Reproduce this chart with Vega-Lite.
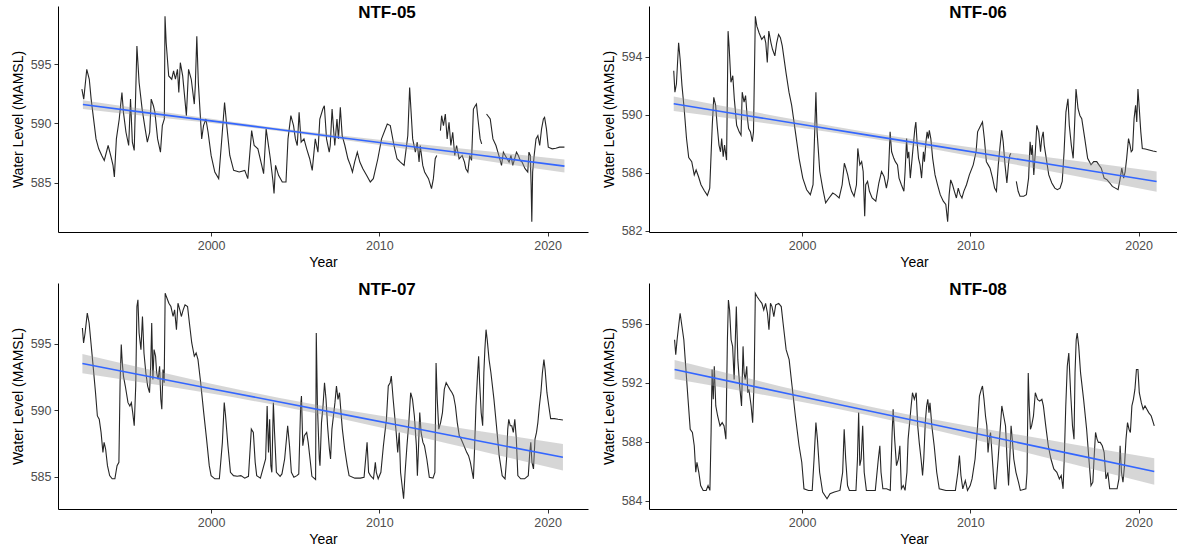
{
"$schema": "https://vega.github.io/schema/vega-lite/v6.json",
"background": "white",
"padding": {"left": 11, "top": 4, "right": 0, "bottom": 0},
"config": {
  "view": {"stroke": null},
  "font": "Liberation Sans",
  "axis": {"grid": false, "domainColor": "#000000", "domainWidth": 1, "tickColor": "#333333", "tickSize": 4, "labelColor": "#4d4d4d", "labelFontSize": 12.5, "titleFontSize": 14, "titleColor": "#000000", "titleFontWeight": "normal", "labelFont": "Liberation Sans", "titleFont": "Liberation Sans", "labelPadding": 3},
  "axisX": {"minExtent": 20, "maxExtent": 20, "titlePadding": 3},
  "axisY": {"minExtent": 30, "maxExtent": 30, "titlePadding": 3},
  "title": {"font": "Liberation Sans", "fontSize": 17, "fontWeight": "bold", "color": "#000000", "anchor": "middle", "frame": "group", "dx": 64, "offset": -16}
},
"datasets": {
"ntf05": [
{"seg":1,"year":1992.32,"level":592.90},{"seg":1,"year":1992.43,"level":592.06},{"seg":1,"year":1992.61,"level":594.58},{"seg":1,"year":1992.76,"level":593.74},{"seg":1,"year":1992.87,"level":592.06},{"seg":1,"year":1993.16,"level":588.70},{"seg":1,"year":1993.32,"level":587.86},{"seg":1,"year":1993.50,"level":587.30},{"seg":1,"year":1993.65,"level":586.88},{"seg":1,"year":1993.88,"level":588.14},{"seg":1,"year":1994.03,"level":587.30},{"seg":1,"year":1994.17,"level":586.46},{"seg":1,"year":1994.25,"level":585.48},{"seg":1,"year":1994.37,"level":588.70},{"seg":1,"year":1994.54,"level":590.38},{"seg":1,"year":1994.70,"level":592.62},{"seg":1,"year":1994.79,"level":590.94},{"seg":1,"year":1994.94,"level":589.26},{"seg":1,"year":1995.10,"level":588.14},{"seg":1,"year":1995.21,"level":592.06},{"seg":1,"year":1995.32,"level":588.42},{"seg":1,"year":1995.43,"level":587.72},{"seg":1,"year":1995.59,"level":596.54},{"seg":1,"year":1995.72,"level":593.46},{"seg":1,"year":1995.90,"level":591.22},{"seg":1,"year":1996.08,"level":589.54},{"seg":1,"year":1996.21,"level":588.42},{"seg":1,"year":1996.35,"level":589.26},{"seg":1,"year":1996.44,"level":592.06},{"seg":1,"year":1996.57,"level":591.50},{"seg":1,"year":1996.66,"level":590.94},{"seg":1,"year":1996.82,"level":588.70},{"seg":1,"year":1996.99,"level":587.58},{"seg":1,"year":1997.10,"level":589.82},{"seg":1,"year":1997.22,"level":590.38},{"seg":1,"year":1997.26,"level":599.06},{"seg":1,"year":1997.33,"level":596.82},{"seg":1,"year":1997.48,"level":594.02},{"seg":1,"year":1997.66,"level":593.74},{"seg":1,"year":1997.77,"level":594.44},{"seg":1,"year":1997.88,"level":593.74},{"seg":1,"year":1998.00,"level":594.58},{"seg":1,"year":1998.08,"level":592.62},{"seg":1,"year":1998.17,"level":595.14},{"seg":1,"year":1998.31,"level":594.02},{"seg":1,"year":1998.44,"level":592.06},{"seg":1,"year":1998.53,"level":590.66},{"seg":1,"year":1998.66,"level":594.58},{"seg":1,"year":1998.82,"level":593.74},{"seg":1,"year":1999.00,"level":591.64},{"seg":1,"year":1999.06,"level":593.18},{"seg":1,"year":1999.15,"level":597.38},{"seg":1,"year":1999.24,"level":593.46},{"seg":1,"year":1999.44,"level":588.70},{"seg":1,"year":1999.55,"level":589.82},{"seg":1,"year":1999.69,"level":590.38},{"seg":1,"year":1999.82,"level":589.26},{"seg":1,"year":2000.00,"level":587.30},{"seg":1,"year":2000.22,"level":585.90},{"seg":1,"year":2000.45,"level":585.34},{"seg":1,"year":2000.62,"level":588.42},{"seg":1,"year":2000.80,"level":591.78},{"seg":1,"year":2000.91,"level":590.10},{"seg":1,"year":2001.11,"level":587.30},{"seg":1,"year":2001.34,"level":586.04},{"seg":1,"year":2001.67,"level":585.90},{"seg":1,"year":2002.00,"level":586.04},{"seg":1,"year":2002.18,"level":585.34},{"seg":1,"year":2002.41,"level":589.40},{"seg":1,"year":2002.56,"level":588.14},{"seg":1,"year":2002.78,"level":587.86},{"seg":1,"year":2003.01,"level":586.46},{"seg":1,"year":2003.12,"level":585.76},{"seg":1,"year":2003.27,"level":589.54},{"seg":1,"year":2003.52,"level":587.02},{"seg":1,"year":2003.67,"level":585.20},{"seg":1,"year":2003.74,"level":584.08},{"seg":1,"year":2003.83,"level":586.46},{"seg":1,"year":2004.01,"level":585.62},{"seg":1,"year":2004.23,"level":585.06},{"seg":1,"year":2004.45,"level":585.06},{"seg":1,"year":2004.57,"level":588.70},{"seg":1,"year":2004.74,"level":590.66},{"seg":1,"year":2004.90,"level":589.82},{"seg":1,"year":2005.01,"level":588.70},{"seg":1,"year":2005.12,"level":588.14},{"seg":1,"year":2005.23,"level":590.94},{"seg":1,"year":2005.35,"level":588.42},{"seg":1,"year":2005.52,"level":588.70},{"seg":1,"year":2005.68,"level":587.86},{"seg":1,"year":2005.86,"level":587.02},{"seg":1,"year":2006.01,"level":586.04},{"seg":1,"year":2006.19,"level":588.70},{"seg":1,"year":2006.35,"level":587.58},{"seg":1,"year":2006.46,"level":590.38},{"seg":1,"year":2006.64,"level":591.22},{"seg":1,"year":2006.73,"level":591.50},{"seg":1,"year":2006.86,"level":588.70},{"seg":1,"year":2007.02,"level":587.58},{"seg":1,"year":2007.08,"level":588.14},{"seg":1,"year":2007.19,"level":591.22},{"seg":1,"year":2007.35,"level":588.14},{"seg":1,"year":2007.48,"level":590.38},{"seg":1,"year":2007.57,"level":588.70},{"seg":1,"year":2007.68,"level":591.36},{"seg":1,"year":2007.79,"level":588.98},{"seg":1,"year":2007.95,"level":588.14},{"seg":1,"year":2008.13,"level":587.02},{"seg":1,"year":2008.28,"level":586.46},{"seg":1,"year":2008.40,"level":585.90},{"seg":1,"year":2008.53,"level":586.74},{"seg":1,"year":2008.69,"level":587.58},{"seg":1,"year":2008.84,"level":586.74},{"seg":1,"year":2009.02,"level":586.18},{"seg":1,"year":2009.24,"level":585.62},{"seg":1,"year":2009.46,"level":585.06},{"seg":1,"year":2009.64,"level":585.34},{"seg":1,"year":2009.91,"level":587.02},{"seg":1,"year":2010.13,"level":588.70},{"seg":1,"year":2010.47,"level":589.96},{"seg":1,"year":2010.65,"level":589.82},{"seg":1,"year":2010.87,"level":588.14},{"seg":1,"year":2011.05,"level":587.02},{"seg":1,"year":2011.25,"level":586.74},{"seg":1,"year":2011.47,"level":586.46},{"seg":1,"year":2011.69,"level":588.98},{"seg":1,"year":2011.80,"level":593.04},{"seg":1,"year":2011.98,"level":588.70},{"seg":1,"year":2012.14,"level":587.58},{"seg":1,"year":2012.25,"level":588.42},{"seg":1,"year":2012.36,"level":586.74},{"seg":1,"year":2012.43,"level":588.14},{"seg":1,"year":2012.58,"level":586.46},{"seg":1,"year":2012.69,"level":585.90},{"seg":1,"year":2012.92,"level":585.34},{"seg":1,"year":2013.10,"level":584.50},{"seg":1,"year":2013.21,"level":585.34},{"seg":1,"year":2013.32,"level":587.02},{"seg":1,"year":2013.41,"level":587.30},
{"seg":2,"year":2013.63,"level":589.40},{"seg":2,"year":2013.70,"level":590.66},{"seg":2,"year":2013.81,"level":589.82},{"seg":2,"year":2013.92,"level":590.80},{"seg":2,"year":2014.03,"level":588.70},{"seg":2,"year":2014.14,"level":590.10},{"seg":2,"year":2014.25,"level":588.14},{"seg":2,"year":2014.36,"level":589.26},{"seg":2,"year":2014.48,"level":587.30},{"seg":2,"year":2014.59,"level":588.14},{"seg":2,"year":2014.74,"level":587.02},{"seg":2,"year":2014.92,"level":587.30},{"seg":2,"year":2015.06,"level":586.74},{"seg":2,"year":2015.14,"level":586.18},{"seg":2,"year":2015.26,"level":585.90},{"seg":2,"year":2015.37,"level":587.30},{"seg":2,"year":2015.48,"level":586.88},{"seg":2,"year":2015.59,"level":591.22},{"seg":2,"year":2015.70,"level":591.50},{"seg":2,"year":2015.77,"level":591.64},{"seg":2,"year":2015.86,"level":590.38},{"seg":2,"year":2015.99,"level":588.70},{"seg":2,"year":2016.08,"level":588.28},
{"seg":3,"year":2016.37,"level":590.80},{"seg":3,"year":2016.59,"level":590.38},{"seg":3,"year":2016.75,"level":588.70},{"seg":3,"year":2016.93,"level":588.14},{"seg":3,"year":2017.10,"level":587.30},{"seg":3,"year":2017.26,"level":586.46},{"seg":3,"year":2017.37,"level":587.58},{"seg":3,"year":2017.48,"level":587.30},{"seg":3,"year":2017.59,"level":587.02},{"seg":3,"year":2017.71,"level":586.74},{"seg":3,"year":2017.82,"level":587.30},{"seg":3,"year":2017.93,"level":586.46},{"seg":3,"year":2018.04,"level":587.02},{"seg":3,"year":2018.15,"level":587.58},{"seg":3,"year":2018.26,"level":587.30},{"seg":3,"year":2018.37,"level":586.88},{"seg":3,"year":2018.48,"level":586.74},{"seg":3,"year":2018.66,"level":586.18},{"seg":3,"year":2018.82,"level":585.90},{"seg":3,"year":2018.89,"level":587.58},{"seg":3,"year":2018.97,"level":587.30},{"seg":3,"year":2019.02,"level":584.78},{"seg":3,"year":2019.06,"level":581.70},{"seg":3,"year":2019.11,"level":585.90},{"seg":3,"year":2019.20,"level":587.30},{"seg":3,"year":2019.31,"level":588.70},{"seg":3,"year":2019.42,"level":588.98},{"seg":3,"year":2019.53,"level":588.14},{"seg":3,"year":2019.64,"level":589.54},{"seg":3,"year":2019.75,"level":590.38},{"seg":3,"year":2019.82,"level":590.52},{"seg":3,"year":2019.93,"level":589.54},{"seg":3,"year":2020.04,"level":588.00},{"seg":3,"year":2020.27,"level":587.86},{"seg":3,"year":2020.49,"level":587.91},{"seg":3,"year":2020.71,"level":588.00},{"seg":3,"year":2021.00,"level":588.00}
],
"ntf06": [
{"seg":1,"year":1992.37,"level":593.02},{"seg":1,"year":1992.44,"level":591.55},{"seg":1,"year":1992.53,"level":592.11},{"seg":1,"year":1992.66,"level":594.95},{"seg":1,"year":1992.75,"level":593.82},{"seg":1,"year":1992.86,"level":592.00},{"seg":1,"year":1992.99,"level":590.41},{"seg":1,"year":1993.13,"level":588.36},{"seg":1,"year":1993.26,"level":587.05},{"seg":1,"year":1993.44,"level":586.77},{"seg":1,"year":1993.59,"level":585.86},{"seg":1,"year":1993.70,"level":586.20},{"seg":1,"year":1993.84,"level":585.75},{"seg":1,"year":1993.99,"level":585.18},{"seg":1,"year":1994.19,"level":584.77},{"seg":1,"year":1994.37,"level":584.45},{"seg":1,"year":1994.51,"level":584.95},{"seg":1,"year":1994.66,"level":589.27},{"seg":1,"year":1994.75,"level":591.20},{"seg":1,"year":1994.86,"level":590.64},{"seg":1,"year":1994.95,"level":589.27},{"seg":1,"year":1995.06,"level":587.91},{"seg":1,"year":1995.15,"level":587.45},{"seg":1,"year":1995.22,"level":588.36},{"seg":1,"year":1995.31,"level":587.11},{"seg":1,"year":1995.39,"level":587.91},{"seg":1,"year":1995.51,"level":586.88},{"seg":1,"year":1995.60,"level":595.75},{"seg":1,"year":1995.66,"level":594.73},{"seg":1,"year":1995.77,"level":592.23},{"seg":1,"year":1995.88,"level":592.68},{"seg":1,"year":1995.97,"level":591.09},{"seg":1,"year":1996.11,"level":589.27},{"seg":1,"year":1996.26,"level":588.82},{"seg":1,"year":1996.37,"level":588.59},{"seg":1,"year":1996.44,"level":591.55},{"seg":1,"year":1996.55,"level":590.86},{"seg":1,"year":1996.64,"level":591.32},{"seg":1,"year":1996.73,"level":589.95},{"seg":1,"year":1996.82,"level":589.05},{"seg":1,"year":1996.93,"level":588.82},{"seg":1,"year":1997.04,"level":588.14},{"seg":1,"year":1997.11,"level":588.82},{"seg":1,"year":1997.22,"level":596.77},{"seg":1,"year":1997.31,"level":596.09},{"seg":1,"year":1997.44,"level":595.64},{"seg":1,"year":1997.60,"level":595.18},{"seg":1,"year":1997.75,"level":595.41},{"seg":1,"year":1997.84,"level":594.95},{"seg":1,"year":1997.93,"level":593.59},{"seg":1,"year":1998.02,"level":595.75},{"seg":1,"year":1998.15,"level":594.95},{"seg":1,"year":1998.24,"level":594.50},{"seg":1,"year":1998.38,"level":594.05},{"seg":1,"year":1998.49,"level":594.95},{"seg":1,"year":1998.60,"level":595.52},{"seg":1,"year":1998.71,"level":595.30},{"seg":1,"year":1998.82,"level":594.73},{"seg":1,"year":1999.04,"level":592.91},{"seg":1,"year":1999.22,"level":591.55},{"seg":1,"year":1999.38,"level":590.64},{"seg":1,"year":1999.60,"level":588.82},{"seg":1,"year":1999.82,"level":587.00},{"seg":1,"year":2000.04,"level":585.64},{"seg":1,"year":2000.27,"level":584.84},{"seg":1,"year":2000.49,"level":584.50},{"seg":1,"year":2000.65,"level":585.18},{"seg":1,"year":2000.76,"level":589.27},{"seg":1,"year":2000.82,"level":591.55},{"seg":1,"year":2000.89,"level":588.82},{"seg":1,"year":2001.05,"level":586.09},{"seg":1,"year":2001.22,"level":584.95},{"seg":1,"year":2001.40,"level":583.93},{"seg":1,"year":2001.60,"level":584.27},{"seg":1,"year":2001.82,"level":584.61},{"seg":1,"year":2001.98,"level":584.50},{"seg":1,"year":2002.20,"level":584.27},{"seg":1,"year":2002.38,"level":585.18},{"seg":1,"year":2002.51,"level":586.66},{"seg":1,"year":2002.60,"level":586.32},{"seg":1,"year":2002.71,"level":585.86},{"seg":1,"year":2002.83,"level":585.18},{"seg":1,"year":2002.94,"level":584.73},{"seg":1,"year":2003.09,"level":584.39},{"seg":1,"year":2003.23,"level":585.18},{"seg":1,"year":2003.31,"level":587.68},{"seg":1,"year":2003.43,"level":586.55},{"seg":1,"year":2003.54,"level":586.77},{"seg":1,"year":2003.63,"level":586.09},{"seg":1,"year":2003.72,"level":583.02},{"seg":1,"year":2003.78,"level":585.18},{"seg":1,"year":2003.89,"level":585.41},{"seg":1,"year":2004.00,"level":584.73},{"seg":1,"year":2004.16,"level":584.27},{"seg":1,"year":2004.38,"level":584.05},{"seg":1,"year":2004.56,"level":585.30},{"seg":1,"year":2004.72,"level":586.09},{"seg":1,"year":2004.87,"level":585.75},{"seg":1,"year":2005.01,"level":584.95},{"seg":1,"year":2005.12,"level":585.64},{"seg":1,"year":2005.23,"level":588.82},{"seg":1,"year":2005.32,"level":587.45},{"seg":1,"year":2005.45,"level":587.00},{"seg":1,"year":2005.54,"level":586.77},{"seg":1,"year":2005.67,"level":586.55},{"seg":1,"year":2005.76,"level":585.64},{"seg":1,"year":2005.90,"level":585.18},{"seg":1,"year":2006.05,"level":584.73},{"seg":1,"year":2006.12,"level":586.09},{"seg":1,"year":2006.21,"level":588.36},{"seg":1,"year":2006.27,"level":587.00},{"seg":1,"year":2006.34,"level":587.45},{"seg":1,"year":2006.43,"level":585.64},{"seg":1,"year":2006.52,"level":586.77},{"seg":1,"year":2006.61,"level":587.91},{"seg":1,"year":2006.70,"level":589.05},{"seg":1,"year":2006.76,"level":589.50},{"seg":1,"year":2006.83,"level":588.14},{"seg":1,"year":2006.92,"level":587.00},{"seg":1,"year":2007.01,"level":586.55},{"seg":1,"year":2007.10,"level":585.64},{"seg":1,"year":2007.21,"level":587.45},{"seg":1,"year":2007.27,"level":586.77},{"seg":1,"year":2007.36,"level":588.14},{"seg":1,"year":2007.43,"level":588.82},{"seg":1,"year":2007.50,"level":588.36},{"seg":1,"year":2007.56,"level":588.93},{"seg":1,"year":2007.65,"level":588.36},{"seg":1,"year":2007.76,"level":587.00},{"seg":1,"year":2007.90,"level":585.86},{"seg":1,"year":2008.05,"level":585.18},{"seg":1,"year":2008.21,"level":584.50},{"seg":1,"year":2008.39,"level":584.05},{"seg":1,"year":2008.54,"level":583.82},{"seg":1,"year":2008.65,"level":582.64},{"seg":1,"year":2008.74,"level":584.50},{"seg":1,"year":2008.83,"level":585.52},{"seg":1,"year":2008.94,"level":585.18},{"seg":1,"year":2009.05,"level":584.73},{"seg":1,"year":2009.17,"level":584.27},{"seg":1,"year":2009.28,"level":584.95},{"seg":1,"year":2009.39,"level":584.50},{"seg":1,"year":2009.50,"level":584.27},{"seg":1,"year":2009.61,"level":584.73},{"seg":1,"year":2009.77,"level":585.18},{"seg":1,"year":2009.94,"level":585.86},{"seg":1,"year":2010.17,"level":586.55},{"seg":1,"year":2010.34,"level":587.45},{"seg":1,"year":2010.43,"level":588.82},{"seg":1,"year":2010.57,"level":589.16},{"seg":1,"year":2010.72,"level":589.50},{"seg":1,"year":2010.83,"level":588.36},{"seg":1,"year":2010.95,"level":586.77},{"seg":1,"year":2011.06,"level":586.55},{"seg":1,"year":2011.17,"level":586.32},{"seg":1,"year":2011.32,"level":585.64},{"seg":1,"year":2011.44,"level":584.95},{"seg":1,"year":2011.55,"level":584.73},{"seg":1,"year":2011.66,"level":586.55},{"seg":1,"year":2011.77,"level":587.91},{"seg":1,"year":2011.86,"level":588.93},{"seg":1,"year":2011.95,"level":588.14},{"seg":1,"year":2012.06,"level":586.55},{"seg":1,"year":2012.17,"level":585.30},{"seg":1,"year":2012.28,"level":586.77},{"seg":1,"year":2012.35,"level":587.23},{"seg":1,"year":2012.41,"level":587.34},
{"seg":2,"year":2012.73,"level":585.41},{"seg":2,"year":2012.84,"level":584.73},{"seg":2,"year":2012.95,"level":584.39},{"seg":2,"year":2013.17,"level":584.39},{"seg":2,"year":2013.33,"level":584.50},{"seg":2,"year":2013.46,"level":585.64},{"seg":2,"year":2013.55,"level":588.14},{"seg":2,"year":2013.62,"level":587.23},{"seg":2,"year":2013.68,"level":587.91},{"seg":2,"year":2013.77,"level":585.86},{"seg":2,"year":2013.86,"level":587.45},{"seg":2,"year":2013.95,"level":589.27},{"seg":2,"year":2014.06,"level":588.82},{"seg":2,"year":2014.17,"level":587.45},{"seg":2,"year":2014.24,"level":588.36},{"seg":2,"year":2014.33,"level":588.82},{"seg":2,"year":2014.39,"level":587.91},{"seg":2,"year":2014.51,"level":587.00},{"seg":2,"year":2014.66,"level":585.86},{"seg":2,"year":2014.84,"level":585.30},{"seg":2,"year":2015.02,"level":584.95},{"seg":2,"year":2015.17,"level":584.84},{"seg":2,"year":2015.33,"level":584.95},{"seg":2,"year":2015.46,"level":585.41},{"seg":2,"year":2015.57,"level":587.45},{"seg":2,"year":2015.68,"level":590.18},{"seg":2,"year":2015.80,"level":591.09},{"seg":2,"year":2015.88,"level":589.27},{"seg":2,"year":2016.00,"level":587.91},{"seg":2,"year":2016.11,"level":587.00},{"seg":2,"year":2016.17,"level":588.59},{"seg":2,"year":2016.28,"level":591.77},{"seg":2,"year":2016.40,"level":590.41},{"seg":2,"year":2016.51,"level":589.95},{"seg":2,"year":2016.62,"level":589.73},{"seg":2,"year":2016.80,"level":588.36},{"seg":2,"year":2016.97,"level":587.00},{"seg":2,"year":2017.17,"level":586.55},{"seg":2,"year":2017.33,"level":586.77},{"seg":2,"year":2017.51,"level":586.77},{"seg":2,"year":2017.64,"level":586.55},{"seg":2,"year":2017.78,"level":586.32},{"seg":2,"year":2017.95,"level":585.64},{"seg":2,"year":2018.13,"level":585.52},{"seg":2,"year":2018.29,"level":585.30},{"seg":2,"year":2018.44,"level":585.07},{"seg":2,"year":2018.62,"level":584.95},{"seg":2,"year":2018.78,"level":584.84},{"seg":2,"year":2018.89,"level":585.52},{"seg":2,"year":2019.00,"level":586.32},{"seg":2,"year":2019.11,"level":585.64},{"seg":2,"year":2019.20,"level":586.09},{"seg":2,"year":2019.29,"level":587.00},{"seg":2,"year":2019.40,"level":588.36},{"seg":2,"year":2019.49,"level":587.91},{"seg":2,"year":2019.56,"level":587.45},{"seg":2,"year":2019.64,"level":587.57},{"seg":2,"year":2019.73,"level":589.73},{"seg":2,"year":2019.82,"level":590.64},{"seg":2,"year":2019.89,"level":589.50},{"seg":2,"year":2019.96,"level":591.77},{"seg":2,"year":2020.04,"level":590.41},{"seg":2,"year":2020.13,"level":588.82},{"seg":2,"year":2020.22,"level":587.68},{"seg":2,"year":2020.40,"level":587.64},{"seg":2,"year":2020.62,"level":587.57},{"seg":2,"year":2020.85,"level":587.50},{"seg":2,"year":2021.07,"level":587.45}
],
"ntf07": [
{"year":1992.35,"level":596.17},{"year":1992.42,"level":595.05},{"year":1992.51,"level":595.80},{"year":1992.64,"level":597.29},{"year":1992.75,"level":596.55},{"year":1992.86,"level":595.05},{"year":1992.97,"level":593.55},{"year":1993.13,"level":591.31},{"year":1993.24,"level":589.56},{"year":1993.35,"level":589.31},{"year":1993.46,"level":588.32},{"year":1993.57,"level":586.82},{"year":1993.64,"level":587.57},{"year":1993.73,"level":587.07},{"year":1993.84,"level":585.82},{"year":1993.97,"level":585.07},{"year":1994.12,"level":584.83},{"year":1994.28,"level":584.83},{"year":1994.41,"level":585.82},{"year":1994.52,"level":586.07},{"year":1994.59,"level":592.06},{"year":1994.66,"level":594.93},{"year":1994.72,"level":593.55},{"year":1994.79,"level":592.56},{"year":1994.90,"level":591.81},{"year":1995.06,"level":590.56},{"year":1995.17,"level":590.31},{"year":1995.26,"level":590.56},{"year":1995.34,"level":589.81},{"year":1995.43,"level":588.82},{"year":1995.52,"level":591.81},{"year":1995.59,"level":597.79},{"year":1995.65,"level":598.29},{"year":1995.72,"level":595.80},{"year":1995.83,"level":594.55},{"year":1995.92,"level":597.04},{"year":1996.01,"level":594.30},{"year":1996.12,"level":592.81},{"year":1996.23,"level":591.81},{"year":1996.34,"level":591.31},{"year":1996.41,"level":593.30},{"year":1996.47,"level":596.55},{"year":1996.54,"level":592.31},{"year":1996.61,"level":594.55},{"year":1996.70,"level":594.05},{"year":1996.76,"level":592.81},{"year":1996.85,"level":592.31},{"year":1996.94,"level":593.30},{"year":1997.01,"level":590.81},{"year":1997.07,"level":590.06},{"year":1997.14,"level":593.05},{"year":1997.21,"level":592.06},{"year":1997.27,"level":598.79},{"year":1997.34,"level":598.54},{"year":1997.49,"level":598.04},{"year":1997.61,"level":597.79},{"year":1997.74,"level":597.04},{"year":1997.83,"level":597.54},{"year":1997.94,"level":596.05},{"year":1998.03,"level":598.04},{"year":1998.14,"level":597.54},{"year":1998.23,"level":597.04},{"year":1998.34,"level":597.54},{"year":1998.45,"level":597.92},{"year":1998.60,"level":597.79},{"year":1998.71,"level":596.55},{"year":1998.85,"level":595.05},{"year":1999.00,"level":594.05},{"year":1999.11,"level":594.30},{"year":1999.22,"level":593.80},{"year":1999.38,"level":592.06},{"year":1999.56,"level":589.81},{"year":1999.73,"level":587.82},{"year":1999.89,"level":585.82},{"year":2000.00,"level":585.07},{"year":2000.22,"level":584.83},{"year":2000.49,"level":584.83},{"year":2000.67,"level":587.57},{"year":2000.78,"level":590.56},{"year":2000.86,"level":589.56},{"year":2001.00,"level":587.32},{"year":2001.15,"level":585.32},{"year":2001.33,"level":585.07},{"year":2001.55,"level":585.02},{"year":2001.77,"level":585.07},{"year":2002.00,"level":584.88},{"year":2002.22,"level":585.02},{"year":2002.39,"level":588.57},{"year":2002.51,"level":588.32},{"year":2002.62,"level":586.07},{"year":2002.71,"level":585.07},{"year":2002.93,"level":584.88},{"year":2003.24,"level":586.32},{"year":2003.33,"level":590.31},{"year":2003.41,"level":586.82},{"year":2003.48,"level":589.31},{"year":2003.55,"level":585.82},{"year":2003.61,"level":585.32},{"year":2003.70,"level":590.56},{"year":2003.77,"level":588.32},{"year":2003.88,"level":585.32},{"year":2004.10,"level":585.02},{"year":2004.21,"level":585.20},{"year":2004.37,"level":586.32},{"year":2004.55,"level":588.82},{"year":2004.66,"level":587.32},{"year":2004.77,"level":585.32},{"year":2004.92,"level":584.95},{"year":2005.10,"level":585.07},{"year":2005.21,"level":585.20},{"year":2005.32,"level":590.31},{"year":2005.37,"level":591.06},{"year":2005.45,"level":587.32},{"year":2005.54,"level":588.07},{"year":2005.68,"level":588.32},{"year":2005.77,"level":587.57},{"year":2005.88,"level":586.32},{"year":2005.99,"level":585.02},{"year":2006.21,"level":584.78},{"year":2006.25,"level":595.80},{"year":2006.32,"level":590.31},{"year":2006.43,"level":586.32},{"year":2006.47,"level":585.82},{"year":2006.56,"level":589.06},{"year":2006.65,"level":590.31},{"year":2006.74,"level":592.06},{"year":2006.83,"level":590.81},{"year":2006.92,"level":588.82},{"year":2007.03,"level":587.07},{"year":2007.10,"level":586.32},{"year":2007.18,"level":588.57},{"year":2007.27,"level":589.56},{"year":2007.36,"level":590.56},{"year":2007.45,"level":591.81},{"year":2007.54,"level":590.81},{"year":2007.63,"level":591.31},{"year":2007.72,"level":589.81},{"year":2007.80,"level":588.57},{"year":2007.94,"level":587.07},{"year":2008.09,"level":585.82},{"year":2008.20,"level":585.07},{"year":2008.54,"level":584.88},{"year":2008.87,"level":584.88},{"year":2009.09,"level":584.95},{"year":2009.27,"level":587.57},{"year":2009.36,"level":585.32},{"year":2009.47,"level":585.07},{"year":2009.65,"level":584.83},{"year":2009.76,"level":586.07},{"year":2009.82,"level":585.32},{"year":2009.93,"level":584.83},{"year":2010.09,"level":585.32},{"year":2010.24,"level":587.32},{"year":2010.42,"level":589.31},{"year":2010.53,"level":591.81},{"year":2010.64,"level":592.06},{"year":2010.71,"level":592.56},{"year":2010.82,"level":590.81},{"year":2010.91,"level":589.56},{"year":2011.00,"level":588.32},{"year":2011.09,"level":586.82},{"year":2011.18,"level":588.32},{"year":2011.26,"level":585.32},{"year":2011.35,"level":584.33},{"year":2011.44,"level":583.33},{"year":2011.53,"level":585.32},{"year":2011.64,"level":587.32},{"year":2011.75,"level":589.06},{"year":2011.86,"level":591.31},{"year":2011.97,"level":590.81},{"year":2012.08,"level":589.56},{"year":2012.20,"level":587.32},{"year":2012.26,"level":585.07},{"year":2012.33,"level":587.32},{"year":2012.40,"level":589.81},{"year":2012.48,"level":588.32},{"year":2012.59,"level":587.57},{"year":2012.68,"level":587.32},{"year":2012.82,"level":586.32},{"year":2012.97,"level":584.95},{"year":2013.19,"level":584.88},{"year":2013.30,"level":585.32},{"year":2013.37,"level":593.55},{"year":2013.44,"level":590.81},{"year":2013.53,"level":588.57},{"year":2013.64,"level":589.06},{"year":2013.75,"level":589.81},{"year":2013.86,"level":591.56},{"year":2013.97,"level":592.06},{"year":2014.08,"level":591.81},{"year":2014.19,"level":591.56},{"year":2014.32,"level":591.31},{"year":2014.41,"level":591.06},{"year":2014.52,"level":590.31},{"year":2014.63,"level":589.06},{"year":2014.75,"level":588.07},{"year":2014.86,"level":587.82},{"year":2015.03,"level":587.32},{"year":2015.19,"level":586.82},{"year":2015.30,"level":586.57},{"year":2015.41,"level":586.07},{"year":2015.52,"level":585.32},{"year":2015.59,"level":584.83},{"year":2015.65,"level":586.82},{"year":2015.74,"level":590.31},{"year":2015.83,"level":592.56},{"year":2015.90,"level":594.05},{"year":2015.96,"level":592.06},{"year":2016.05,"level":589.81},{"year":2016.14,"level":588.82},{"year":2016.21,"level":592.81},{"year":2016.27,"level":594.55},{"year":2016.34,"level":596.05},{"year":2016.41,"level":595.30},{"year":2016.52,"level":593.80},{"year":2016.63,"level":592.81},{"year":2016.81,"level":590.81},{"year":2016.96,"level":588.82},{"year":2017.12,"level":586.57},{"year":2017.30,"level":585.07},{"year":2017.47,"level":584.83},{"year":2017.56,"level":586.32},{"year":2017.63,"level":588.57},{"year":2017.69,"level":589.31},{"year":2017.78,"level":588.82},{"year":2017.87,"level":588.82},{"year":2017.96,"level":588.32},{"year":2018.05,"level":589.31},{"year":2018.14,"level":587.82},{"year":2018.23,"level":585.07},{"year":2018.40,"level":584.83},{"year":2018.63,"level":584.83},{"year":2018.85,"level":585.07},{"year":2018.94,"level":586.82},{"year":2019.00,"level":587.57},{"year":2019.07,"level":586.07},{"year":2019.16,"level":585.57},{"year":2019.25,"level":587.82},{"year":2019.34,"level":588.32},{"year":2019.42,"level":589.06},{"year":2019.51,"level":590.31},{"year":2019.60,"level":591.31},{"year":2019.69,"level":592.81},{"year":2019.78,"level":593.80},{"year":2019.85,"level":593.05},{"year":2019.96,"level":591.31},{"year":2020.07,"level":590.31},{"year":2020.18,"level":589.36},{"year":2020.40,"level":589.36},{"year":2020.62,"level":589.31},{"year":2020.91,"level":589.26}
],
"ntf08": [
{"year":1992.42,"level":594.92},{"year":1992.49,"level":593.91},{"year":1992.57,"level":594.92},{"year":1992.68,"level":596.04},{"year":1992.75,"level":596.72},{"year":1992.86,"level":595.82},{"year":1992.97,"level":594.92},{"year":1993.08,"level":593.12},{"year":1993.22,"level":590.88},{"year":1993.35,"level":588.85},{"year":1993.48,"level":588.63},{"year":1993.59,"level":587.73},{"year":1993.68,"level":585.93},{"year":1993.75,"level":586.61},{"year":1993.86,"level":585.93},{"year":1993.97,"level":585.03},{"year":1994.12,"level":584.70},{"year":1994.30,"level":584.70},{"year":1994.41,"level":585.03},{"year":1994.52,"level":584.70},{"year":1994.59,"level":588.63},{"year":1994.65,"level":592.90},{"year":1994.72,"level":590.88},{"year":1994.78,"level":593.12},{"year":1994.87,"level":590.43},{"year":1994.98,"level":589.75},{"year":1995.12,"level":589.08},{"year":1995.25,"level":589.30},{"year":1995.36,"level":589.08},{"year":1995.47,"level":588.18},{"year":1995.56,"level":594.92},{"year":1995.62,"level":597.62},{"year":1995.69,"level":596.94},{"year":1995.78,"level":594.92},{"year":1995.87,"level":594.47},{"year":1995.96,"level":592.22},{"year":1996.09,"level":597.17},{"year":1996.18,"level":593.57},{"year":1996.29,"level":591.78},{"year":1996.40,"level":590.43},{"year":1996.49,"level":594.47},{"year":1996.55,"level":592.67},{"year":1996.62,"level":592.22},{"year":1996.71,"level":593.12},{"year":1996.77,"level":591.33},{"year":1996.84,"level":591.55},{"year":1996.97,"level":590.43},{"year":1997.06,"level":589.30},{"year":1997.15,"level":592.22},{"year":1997.22,"level":598.07},{"year":1997.33,"level":597.84},{"year":1997.46,"level":597.62},{"year":1997.61,"level":597.39},{"year":1997.72,"level":596.94},{"year":1997.83,"level":597.39},{"year":1997.94,"level":596.72},{"year":1998.03,"level":595.60},{"year":1998.12,"level":597.39},{"year":1998.21,"level":597.17},{"year":1998.32,"level":596.49},{"year":1998.43,"level":597.28},{"year":1998.61,"level":597.39},{"year":1998.76,"level":597.17},{"year":1998.87,"level":596.04},{"year":1999.05,"level":594.25},{"year":1999.23,"level":593.57},{"year":1999.38,"level":592.00},{"year":1999.60,"level":589.75},{"year":1999.82,"level":587.73},{"year":1999.98,"level":586.61},{"year":2000.11,"level":584.81},{"year":2000.38,"level":584.70},{"year":2000.60,"level":584.70},{"year":2000.71,"level":586.83},{"year":2000.82,"level":589.30},{"year":2000.91,"level":588.18},{"year":2001.04,"level":585.93},{"year":2001.22,"level":584.59},{"year":2001.48,"level":584.14},{"year":2001.66,"level":584.47},{"year":2001.92,"level":584.59},{"year":2002.25,"level":584.70},{"year":2002.41,"level":585.93},{"year":2002.50,"level":588.85},{"year":2002.59,"level":586.83},{"year":2002.70,"level":585.03},{"year":2002.81,"level":584.70},{"year":2003.20,"level":584.70},{"year":2003.29,"level":586.83},{"year":2003.36,"level":589.98},{"year":2003.43,"level":586.38},{"year":2003.51,"level":586.83},{"year":2003.60,"level":589.08},{"year":2003.69,"level":585.93},{"year":2003.82,"level":584.70},{"year":2004.35,"level":584.70},{"year":2004.53,"level":586.83},{"year":2004.62,"level":587.73},{"year":2004.69,"level":585.93},{"year":2004.80,"level":584.81},{"year":2005.02,"level":584.81},{"year":2005.24,"level":584.70},{"year":2005.35,"level":588.63},{"year":2005.41,"level":590.20},{"year":2005.50,"level":588.18},{"year":2005.61,"level":586.38},{"year":2005.72,"level":586.83},{"year":2005.81,"level":587.73},{"year":2005.90,"level":584.81},{"year":2006.01,"level":585.03},{"year":2006.12,"level":584.70},{"year":2006.23,"level":585.93},{"year":2006.30,"level":588.18},{"year":2006.39,"level":589.30},{"year":2006.48,"level":590.43},{"year":2006.56,"level":591.33},{"year":2006.67,"level":590.88},{"year":2006.78,"level":591.33},{"year":2006.87,"level":589.08},{"year":2006.96,"level":587.96},{"year":2007.07,"level":586.83},{"year":2007.16,"level":585.71},{"year":2007.23,"level":586.83},{"year":2007.32,"level":589.30},{"year":2007.40,"level":590.43},{"year":2007.47,"level":590.88},{"year":2007.54,"level":589.98},{"year":2007.60,"level":590.65},{"year":2007.71,"level":589.08},{"year":2007.85,"level":587.73},{"year":2008.00,"level":585.93},{"year":2008.15,"level":584.81},{"year":2008.55,"level":584.70},{"year":2009.11,"level":584.70},{"year":2009.26,"level":585.93},{"year":2009.35,"level":587.06},{"year":2009.44,"level":585.71},{"year":2009.55,"level":584.81},{"year":2009.70,"level":585.37},{"year":2009.83,"level":584.70},{"year":2009.99,"level":585.03},{"year":2010.10,"level":585.48},{"year":2010.28,"level":586.83},{"year":2010.43,"level":589.08},{"year":2010.54,"level":591.10},{"year":2010.65,"level":591.55},{"year":2010.72,"level":591.78},{"year":2010.81,"level":590.88},{"year":2010.90,"level":589.75},{"year":2010.98,"level":589.08},{"year":2011.05,"level":587.28},{"year":2011.12,"level":588.18},{"year":2011.20,"level":588.63},{"year":2011.32,"level":586.61},{"year":2011.43,"level":584.81},{"year":2011.51,"level":584.81},{"year":2011.65,"level":586.83},{"year":2011.76,"level":588.63},{"year":2011.87,"level":590.43},{"year":2011.98,"level":589.75},{"year":2012.09,"level":589.08},{"year":2012.18,"level":586.83},{"year":2012.27,"level":585.03},{"year":2012.35,"level":587.06},{"year":2012.42,"level":589.08},{"year":2012.49,"level":588.18},{"year":2012.58,"level":586.83},{"year":2012.71,"level":585.93},{"year":2012.86,"level":585.26},{"year":2012.97,"level":584.70},{"year":2013.30,"level":584.81},{"year":2013.37,"level":585.93},{"year":2013.44,"level":592.67},{"year":2013.50,"level":590.43},{"year":2013.57,"level":588.85},{"year":2013.64,"level":589.08},{"year":2013.75,"level":589.75},{"year":2013.86,"level":591.33},{"year":2013.99,"level":590.88},{"year":2014.12,"level":590.76},{"year":2014.25,"level":590.88},{"year":2014.34,"level":590.43},{"year":2014.48,"level":589.08},{"year":2014.63,"level":587.73},{"year":2014.79,"level":586.83},{"year":2014.96,"level":586.16},{"year":2015.14,"level":585.93},{"year":2015.29,"level":585.48},{"year":2015.40,"level":585.71},{"year":2015.51,"level":584.81},{"year":2015.58,"level":586.83},{"year":2015.67,"level":590.43},{"year":2015.76,"level":593.12},{"year":2015.85,"level":594.02},{"year":2015.96,"level":591.33},{"year":2016.07,"level":589.08},{"year":2016.16,"level":588.18},{"year":2016.22,"level":592.67},{"year":2016.29,"level":594.92},{"year":2016.35,"level":595.37},{"year":2016.44,"level":594.47},{"year":2016.55,"level":592.67},{"year":2016.73,"level":590.88},{"year":2016.91,"level":588.85},{"year":2017.06,"level":586.61},{"year":2017.17,"level":585.03},{"year":2017.28,"level":585.26},{"year":2017.35,"level":586.83},{"year":2017.44,"level":588.63},{"year":2017.53,"level":588.18},{"year":2017.61,"level":587.96},{"year":2017.72,"level":587.96},{"year":2017.84,"level":587.73},{"year":2017.95,"level":587.28},{"year":2018.06,"level":585.48},{"year":2018.17,"level":585.93},{"year":2018.28,"level":584.81},{"year":2018.50,"level":584.81},{"year":2018.72,"level":584.81},{"year":2018.83,"level":585.48},{"year":2018.90,"level":587.73},{"year":2018.98,"level":585.93},{"year":2019.07,"level":585.26},{"year":2019.16,"level":586.38},{"year":2019.25,"level":588.18},{"year":2019.34,"level":589.30},{"year":2019.43,"level":588.85},{"year":2019.51,"level":588.63},{"year":2019.60,"level":590.43},{"year":2019.69,"level":590.88},{"year":2019.78,"level":591.55},{"year":2019.87,"level":592.90},{"year":2019.96,"level":592.90},{"year":2020.04,"level":591.33},{"year":2020.16,"level":590.65},{"year":2020.27,"level":590.20},{"year":2020.38,"level":590.43},{"year":2020.49,"level":590.20},{"year":2020.60,"level":589.98},{"year":2020.75,"level":589.75},{"year":2020.93,"level":589.08}
],
"band05": [
{"year":1992.38,"fit":591.60,"lo":591.23,"hi":591.97},{"year":1996,"fit":590.94,"lo":590.66,"hi":591.22},{"year":2000,"fit":590.22,"lo":590.04,"hi":590.40},{"year":2004,"fit":589.49,"lo":589.36,"hi":589.62},{"year":2008,"fit":588.76,"lo":588.58,"hi":588.94},{"year":2012,"fit":588.03,"lo":587.75,"hi":588.31},{"year":2016,"fit":587.31,"lo":586.91,"hi":587.71},{"year":2021.0,"fit":586.40,"lo":585.85,"hi":586.95}
],
"band06": [
{"year":1992.37,"fit":590.75,"lo":590.25,"hi":591.25},{"year":1996,"fit":590.07,"lo":589.70,"hi":590.44},{"year":2000,"fit":589.33,"lo":589.08,"hi":589.58},{"year":2004,"fit":588.58,"lo":588.38,"hi":588.78},{"year":2008,"fit":587.84,"lo":587.59,"hi":588.09},{"year":2012,"fit":587.09,"lo":586.72,"hi":587.46},{"year":2016,"fit":586.35,"lo":585.84,"hi":586.86},{"year":2021.07,"fit":585.40,"lo":584.70,"hi":586.10}
],
"band07": [
{"year":1992.35,"fit":593.50,"lo":592.78,"hi":594.22},{"year":1996,"fit":592.60,"lo":592.06,"hi":593.14},{"year":2000,"fit":591.61,"lo":591.24,"hi":591.98},{"year":2004,"fit":590.63,"lo":590.33,"hi":590.93},{"year":2008,"fit":589.64,"lo":589.27,"hi":590.01},{"year":2012,"fit":588.65,"lo":588.11,"hi":589.19},{"year":2016,"fit":587.66,"lo":586.92,"hi":588.40},{"year":2020.91,"fit":586.45,"lo":585.45,"hi":587.45}
],
"band08": [
{"year":1992.42,"fit":592.90,"lo":592.25,"hi":593.55},{"year":1996,"fit":592.03,"lo":591.53,"hi":592.53},{"year":2000,"fit":591.06,"lo":590.70,"hi":591.42},{"year":2004,"fit":590.09,"lo":589.79,"hi":590.39},{"year":2008,"fit":589.12,"lo":588.76,"hi":589.48},{"year":2012,"fit":588.15,"lo":587.65,"hi":588.65},{"year":2016,"fit":587.18,"lo":586.51,"hi":587.85},{"year":2020.93,"fit":585.98,"lo":585.08,"hi":586.88}
]
},
"columns": 2,
"spacing": {"row": 12, "column": 14},
"concat": [
{"width": 530, "height": 226, "title": {"text": "NTF-05"},
 "layer": [
  {"data": {"name": "ntf05"}, "mark": {"type": "line", "color": "#262626", "strokeWidth": 1.1},
   "encoding": {"x": {"field": "year", "type": "quantitative", "scale": {"domain": [1990.9, 2022.4], "nice": false, "zero": false}, "axis": {"title": "Year", "values": [2000, 2010, 2020], "format": "d"}},
    "y": {"field": "level", "type": "quantitative", "scale": {"domain": [580.83, 599.93], "nice": false, "zero": false}, "axis": {"title": "Water Level (MAMSL)", "values": [585, 590, 595]}},
    "detail": {"field": "seg", "type": "nominal"}}},
  {"data": {"name": "band05"}, "mark": {"type": "area", "color": "#999999", "opacity": 0.4, "interpolate": "monotone"},
   "encoding": {"x": {"field": "year", "type": "quantitative", "title": "Year"}, "y": {"field": "lo", "type": "quantitative", "title": "Water Level (MAMSL)"}, "y2": {"field": "hi"}}},
  {"data": {"name": "band05"}, "mark": {"type": "line", "color": "#3366FF", "strokeWidth": 1.6},
   "encoding": {"x": {"field": "year", "type": "quantitative", "title": "Year"}, "y": {"field": "fit", "type": "quantitative", "title": "Water Level (MAMSL)"}}}
 ]},
{"width": 530, "height": 226, "title": {"text": "NTF-06"},
 "layer": [
  {"data": {"name": "ntf06"}, "mark": {"type": "line", "color": "#262626", "strokeWidth": 1.1},
   "encoding": {"x": {"field": "year", "type": "quantitative", "scale": {"domain": [1990.9, 2022.4], "nice": false, "zero": false}, "axis": {"title": "Year", "values": [2000, 2010, 2020], "format": "d"}},
    "y": {"field": "level", "type": "quantitative", "scale": {"domain": [581.93, 597.48], "nice": false, "zero": false}, "axis": {"title": "Water Level (MAMSL)", "values": [582, 586, 590, 594]}},
    "detail": {"field": "seg", "type": "nominal"}}},
  {"data": {"name": "band06"}, "mark": {"type": "area", "color": "#999999", "opacity": 0.4, "interpolate": "monotone"},
   "encoding": {"x": {"field": "year", "type": "quantitative", "title": "Year"}, "y": {"field": "lo", "type": "quantitative", "title": "Water Level (MAMSL)"}, "y2": {"field": "hi"}}},
  {"data": {"name": "band06"}, "mark": {"type": "line", "color": "#3366FF", "strokeWidth": 1.6},
   "encoding": {"x": {"field": "year", "type": "quantitative", "title": "Year"}, "y": {"field": "fit", "type": "quantitative", "title": "Water Level (MAMSL)"}}}
 ]},
{"width": 530, "height": 226, "title": {"text": "NTF-07"},
 "layer": [
  {"data": {"name": "ntf07"}, "mark": {"type": "line", "color": "#262626", "strokeWidth": 1.1},
   "encoding": {"x": {"field": "year", "type": "quantitative", "scale": {"domain": [1990.9, 2022.4], "nice": false, "zero": false}, "axis": {"title": "Year", "values": [2000, 2010, 2020], "format": "d"}},
    "y": {"field": "level", "type": "quantitative", "scale": {"domain": [582.56, 599.56], "nice": false, "zero": false}, "axis": {"title": "Water Level (MAMSL)", "values": [585, 590, 595]}}}},
  {"data": {"name": "band07"}, "mark": {"type": "area", "color": "#999999", "opacity": 0.4, "interpolate": "monotone"},
   "encoding": {"x": {"field": "year", "type": "quantitative", "title": "Year"}, "y": {"field": "lo", "type": "quantitative", "title": "Water Level (MAMSL)"}, "y2": {"field": "hi"}}},
  {"data": {"name": "band07"}, "mark": {"type": "line", "color": "#3366FF", "strokeWidth": 1.6},
   "encoding": {"x": {"field": "year", "type": "quantitative", "title": "Year"}, "y": {"field": "fit", "type": "quantitative", "title": "Water Level (MAMSL)"}}}
 ]},
{"width": 530, "height": 226, "title": {"text": "NTF-08"},
 "layer": [
  {"data": {"name": "ntf08"}, "mark": {"type": "line", "color": "#262626", "strokeWidth": 1.1},
   "encoding": {"x": {"field": "year", "type": "quantitative", "scale": {"domain": [1990.9, 2022.4], "nice": false, "zero": false}, "axis": {"title": "Year", "values": [2000, 2010, 2020], "format": "d"}},
    "y": {"field": "level", "type": "quantitative", "scale": {"domain": [583.44, 598.77], "nice": false, "zero": false}, "axis": {"title": "Water Level (MAMSL)", "values": [584, 588, 592, 596]}}}},
  {"data": {"name": "band08"}, "mark": {"type": "area", "color": "#999999", "opacity": 0.4, "interpolate": "monotone"},
   "encoding": {"x": {"field": "year", "type": "quantitative", "title": "Year"}, "y": {"field": "lo", "type": "quantitative", "title": "Water Level (MAMSL)"}, "y2": {"field": "hi"}}},
  {"data": {"name": "band08"}, "mark": {"type": "line", "color": "#3366FF", "strokeWidth": 1.6},
   "encoding": {"x": {"field": "year", "type": "quantitative", "title": "Year"}, "y": {"field": "fit", "type": "quantitative", "title": "Water Level (MAMSL)"}}}
 ]}
]
}
